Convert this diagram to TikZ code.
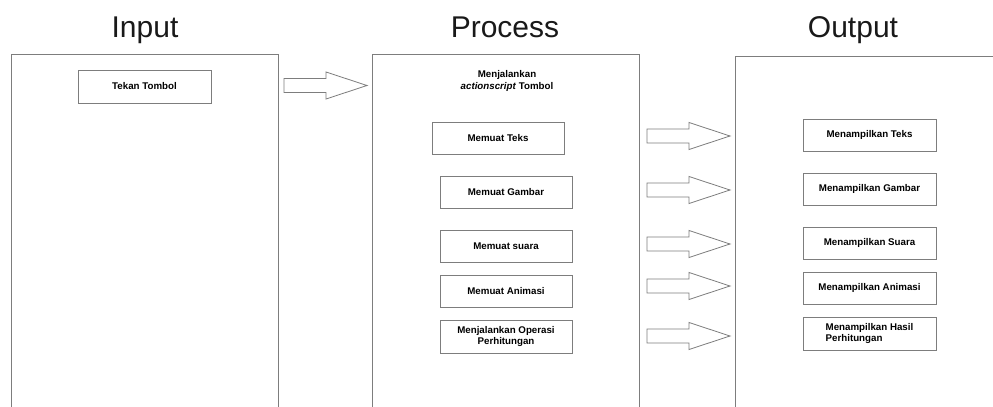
\documentclass[tikz,border=0pt]{standalone}
\usepackage{fontspec}
\setmainfont{Liberation Sans}
\usepackage{xcolor}

\definecolor{framegray}{RGB}{125,125,125}

\tikzset{
  stagebox/.style={draw=framegray, line width=0.65pt},
  stepbox/.style={draw=framegray, line width=0.65pt, fill=white, minimum width=99pt, minimum height=24pt,
    inner sep=1pt, align=center, font=\bfseries\fontsize{7.3}{7.8}\selectfont},
  fatarrow/.style={draw=framegray, line width=0.6pt, line join=miter, fill=white},
  heading/.style={anchor=base, font=\fontsize{22.5}{26}\selectfont, text=black!90}
}

% block arrow: tail centre given, shaft 42 long, head 41 long
\newcommand{\blockarrow}[1]{%
  \draw [fatarrow] (#1) ++(0,-7) -- ++(42,0) -- ++(0,-6.5) -- ++(41,13.5) -- ++(-41,13.5) -- ++(0,-6.5) -- ++(-42,0) -- cycle ;}

\begin{document}
\begin{tikzpicture}[x=0.75pt,y=0.75pt,yscale=-1,xscale=1]
\useasboundingbox (0,0) rectangle (993,407);

% Headings
\node [heading] (inputtitle) at (145,37) {Input};
\node [heading] (processtitle) at (505,37) {Process};
\node [heading] (outputtitle) at (853,37) {Output};

% Stage frames (open at the bottom)
\draw [stagebox] (11,407) |- (278,54) -- (278,407) ;
\draw [stagebox] (372,407) |- (639,54) -- (639,407) ;
\draw [stagebox] (735,407) |- (993,56) ;

% Input
\node [stepbox, minimum width=99.75pt, minimum height=24.75pt] (tekan) at (144.5,86.5) {Tekan Tombol};

% Process
\node [align=center, font=\bfseries\fontsize{7.3}{9}\selectfont] (jalankan) at (507,81) {Menjalankan\\ \textit{actionscript} Tombol};
\node [stepbox] (mteks) at (498,138) {Memuat Teks};
\node [stepbox] (mgambar) at (506,192) {Memuat Gambar};
\node [stepbox] (msuara) at (506,246) {Memuat suara};
\node [stepbox] (manimasi) at (506,291) {Memuat Animasi};
\node [stepbox, minimum height=24.75pt] (moperasi) at (506,336.5) {Menjalankan Operasi\\ Perhitungan};

% Output
\node [stepbox, minimum width=99.75pt] (tteks) at (869.5,135) {Menampilkan Teks};
\node [stepbox, minimum width=99.75pt] (tgambar) at (869.5,189) {Menampilkan Gambar};
\node [stepbox, minimum width=99.75pt] (tsuara) at (869.5,243) {Menampilkan Suara};
\node [stepbox, minimum width=99.75pt] (tanimasi) at (869.5,288) {Menampilkan Animasi};
\node [stepbox, minimum width=99.75pt, minimum height=24.75pt, align=left] (thasil) at (869.5,333.5) {Menampilkan Hasil\\ Perhitungan};

% Block arrows
\blockarrow{284,85.5}
\foreach \y in {136,190,244,286,336} {\blockarrow{647,\y}}

\end{tikzpicture}
\end{document}
